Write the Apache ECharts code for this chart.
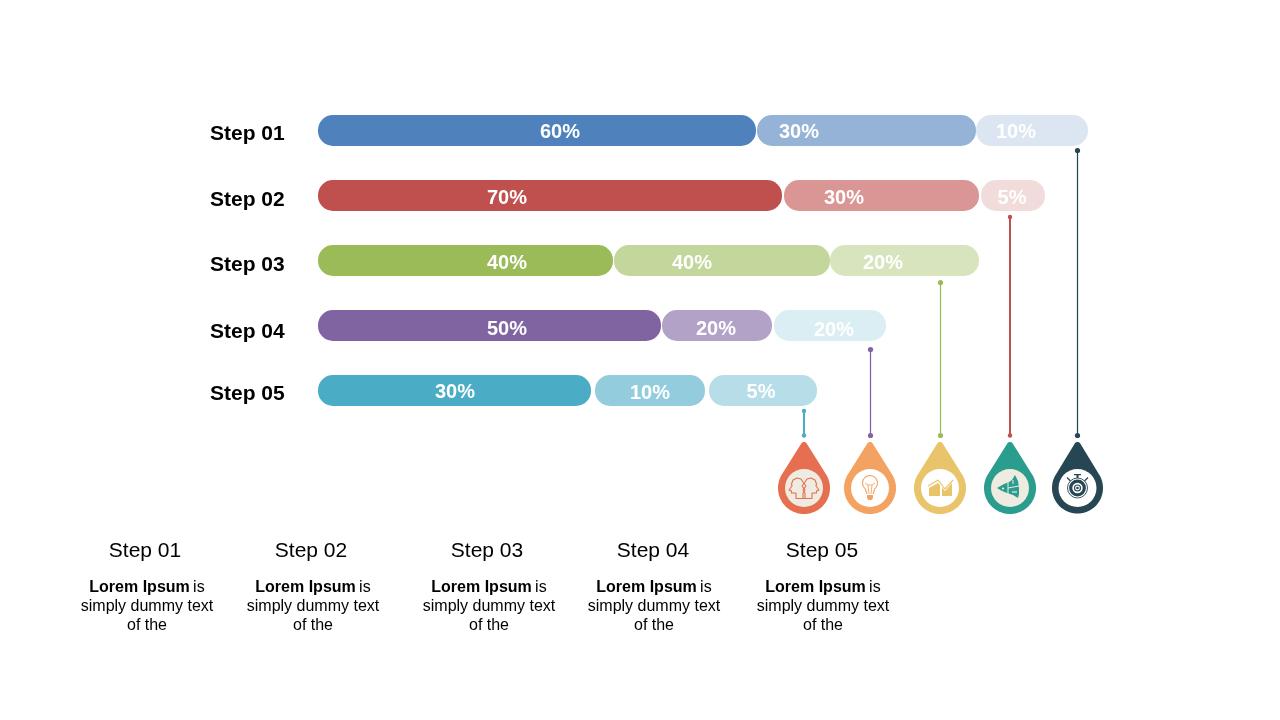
<!DOCTYPE html>
<html>
<head>
<meta charset="utf-8">
<style>html,body{margin:0;padding:0;background:#fff}#c{width:1280px;height:720px}</style>
<script src="https://cdn.jsdelivr.net/npm/echarts@6/dist/echarts.min.js"></script>
</head>
<body>
<div id="c"></div>
<script>
// ---- data ----
const categories = ['Step 01', 'Step 02', 'Step 03', 'Step 04', 'Step 05'];
// Drawn lengths of the segments (the printed percentages are not to scale in the source)
const firstLengths  = [438, 464, 295, 343, 273];
const firstGaps     = [1, 2, 1, 1, 4];
const secondLengths = [219, 195, 216, 110, 110];
const secondGaps    = [0, 2, 0, 2, 4];
const thirdLengths  = [112, 64, 149, 112, 108];
const firstLabels   = ['60%', '70%', '40%', '50%', '30%'];
const secondLabels  = ['30%', '30%', '40%', '20%', '10%'];
const thirdLabels   = ['10%', '5%', '20%', '20%', '5%'];
const stepTitles    = ['Step 01', 'Step 02', 'Step 03', 'Step 04', 'Step 05'];

// ---- styling and layout ----
const firstColors  = ['#4F81BD', '#C0504D', '#9BBB59', '#8064A2', '#4BACC6'];
const secondColors = ['#95B3D7', '#D99694', '#C3D69B', '#B3A2C7', '#93CDDD'];
const thirdColors  = ['#DCE6F2', '#F2DCDB', '#D7E4BD', '#DBEEF4', '#B7DEE8'];
const FONT = '"Liberation Sans", Arial, sans-serif';
const GRID_LEFT = 318;
const ROW_LABEL_DROP = [3.5, 4.5, 4.5, 6.5, 3.5];
const labelCentersX = [
  [560, 507, 507, 507, 455],
  [799, 844, 692, 716, 650],
  [1016, 1012, 883, 834, 761]
];
const labelDropsY = [
  [1.5, 2.5, 2.5, 3.5, 1.5],
  [1.5, 2.5, 2.5, 3.5, 2.5],
  [1.5, 2.5, 2.5, 4.5, 1.5]
];

function segmentStarts(idx) {
  return categories.map((_, i) => {
    let s = 0;
    if (idx > 0) s += firstLengths[i] + firstGaps[i];
    if (idx > 1) s += secondLengths[i] + secondGaps[i];
    return s;
  });
}
function segmentSeries(name, idx, lengths, labels, colors) {
  const starts = segmentStarts(idx);
  return {
    name, type: 'bar', stack: 'row', barWidth: 31, silent: true,
    data: lengths.map((v, i) => ({
      value: v,
      itemStyle: { color: colors[i], borderRadius: 15 },
      label: {
        show: true, position: 'inside', formatter: labels[i],
        color: '#fff', fontFamily: FONT, fontWeight: 'bold', fontSize: 20,
        offset: [labelCentersX[idx][i] - GRID_LEFT - starts[i] - v / 2, labelDropsY[idx][i]]
      }
    }))
  };
}
function gapSeries(name, gaps) {
  return { name, type: 'bar', stack: 'row', barWidth: 31, silent: true,
    itemStyle: { color: 'transparent' }, label: { show: false }, data: gaps };
}

// ---- pins ----
const pins = [
  { cx: 804, lineX: 804, top: 411, color: '#4BACC6', lw: 2, dot: 2.2, drop: '#E76F51', inner: '#EEEBE0', r: 26 },
  { cx: 870, lineX: 870.5, top: 349.5, color: '#8064A2', lw: 1.25, dot: 2.6, drop: '#F4A261', inner: '#FFFFFF', r: 26 },
  { cx: 940, lineX: 940.5, top: 282.5, color: '#9BBB59', lw: 1.25, dot: 2.6, drop: '#E9C46A', inner: '#FFFFFF', r: 26 },
  { cx: 1010, lineX: 1010, top: 217, color: '#C0504D', lw: 2, dot: 2.2, drop: '#2A9D8F', inner: '#EEEBE0', r: 26 },
  { cx: 1077.5, lineX: 1077.5, top: 150.5, color: '#264653', lw: 1.25, dot: 2.6, drop: '#264653', inner: '#FFFFFF', r: 25.5 }
];
const CY = 488;

function dropPoints(cx, R) {
  const r = 3.2, tipY = 445.2;
  const a = Math.asin((R - r) / (CY - tipY));
  const pts = [];
  for (let t = -a; t <= Math.PI + a + 1e-6; t += (Math.PI + 2 * a) / 60)
    pts.push([cx + R * Math.cos(t), CY + R * Math.sin(t)]);
  for (let t = Math.PI + a; t <= 2 * Math.PI - a + 1e-6; t += (Math.PI - 2 * a) / 10)
    pts.push([cx + r * Math.cos(t), tipY + r * Math.sin(t)]);
  return pts;
}
const els = [];
function poly(points, fill) { els.push({ type: 'polygon', silent: true, shape: { points }, style: { fill } }); }
function pline(points, stroke, lw) { els.push({ type: 'polyline', silent: true, shape: { points }, style: { stroke, fill: 'none', lineWidth: lw, lineJoin: 'round' } }); }
function circ(cx, cy, r, fill, stroke, lw) { els.push({ type: 'circle', silent: true, shape: { cx, cy, r }, style: { fill: fill || 'none', stroke: stroke || 'none', lineWidth: lw || 0 } }); }
const off = (cx, cy, arr) => arr.map(p => [cx + p[0], cy + p[1]]);

pins.forEach(p => {
  els.push({ type: 'line', silent: true, shape: { x1: p.lineX, y1: p.top, x2: p.lineX, y2: 435.5 }, style: { stroke: p.color, lineWidth: p.lw } });
  circ(p.lineX, p.top, p.dot, p.color);
  circ(p.lineX, 435.5, p.dot, p.color);
  poly(dropPoints(p.cx, p.r), p.drop);
  circ(p.cx, CY, 19, p.inner);
});

// icon 1: two heads
(function () {
  const c = '#E76F51', x = 804, y = 488;
  const head = [[-1, -6], [-3, -9], [-7, -10], [-11, -8], [-12.5, -4], [-12, -2], [-15, 2], [-12.5, 3], [-12.5, 5], [-8, 5], [-8, 10.5], [1, 10.5], [1, 5], [-1, 2], [2, -2], [-1, -6]];
  pline(off(x, y, head), c, 1.1);
  pline(off(x, y, head.map(q => [-q[0], q[1]])), c, 1.1);
})();
// icon 2: light bulb
(function () {
  const c = '#F4A261', x = 870, y = 488;
  const pts = [];
  for (let d = 130; d <= 410; d += 20) { const t = d * Math.PI / 180; pts.push([7.5 * Math.cos(t), -5 + 7.5 * Math.sin(t)]); }
  pline(off(x, y, [[-3, 6]].concat(pts).concat([[3, 6]])), c, 1.1);
  pline(off(x, y, [[-5, -5], [-2, -3], [-1, 6]]), c, 0.9);
  pline(off(x, y, [[5, -5], [2, -3], [1, 6]]), c, 0.9);
  pline(off(x, y, [[-2, -3], [2, -3]]), c, 0.9);
  poly(off(x, y, [[-3, 7], [3, 7], [3, 10], [1.5, 12], [-1.5, 12], [-3, 10]]), c);
})();
// icon 3: area chart
(function () {
  const c = '#E9C46A', x = 940, y = 488;
  pline(off(x, y, [[-12, -2], [-2, -8], [5, 1], [13, -8]]), c, 1.2);
  poly(off(x, y, [[-11, 8], [-11, 0], [-2, -5], [0, -3], [0, 8]]), c);
  poly(off(x, y, [[2, 8], [2, -1], [5, 3], [12, -5], [12, 8]]), c);
})();
// icon 4: three-leaf shape
(function () {
  const c = '#2A9D8F', b = '#EEEBE0', x = 1010, y = 488;
  poly(off(x, y, [[-13, 0], [-6, -4], [-1, -6], [2, -8], [5, -13], [8, -7], [9, 0], [9, 6], [8, 10], [3, 7], [-3, 5], [-8, 3]]), c);
  pline(off(x, y, [[-2, -7], [-2, 6]]), b, 1);
  pline(off(x, y, [[-2, 0], [9, -2]]), b, 1);
  pline(off(x, y, [[2, 4], [7, 4]]), b, 1.2);
  pline(off(x, y, [[3, -8], [3, -4]]), b, 1);
  circ(x - 7, y + 0.5, 1.1, b);
})();
// icon 5: stopwatch with gear
(function () {
  const c = '#264653', x = 1077.5, y = 488;
  circ(x, y, 10, null, c, 0.9);
  circ(x, y, 6.8, null, c, 3.2);
  circ(x, y, 3, null, c, 1.1);
  circ(x, y, 1.3, c);
  poly(off(x, y, [[-3.5, -14], [3.5, -14], [3.5, -12.8], [1, -12.8], [1, -10], [-1, -10], [-1, -12.8], [-3.5, -12.8]]), c);
  pline(off(x, y, [[-10.5, -10.5], [-7, -7]]), c, 1.2);
  pline(off(x, y, [[10.5, -10.5], [7, -7]]), c, 1.2);
})();

// ---- lower captions ----
const titleCentersX = [145, 311, 487, 653, 822];
const bodyCentersX = [147, 313, 489, 654, 823];
stepTitles.forEach((t, i) => {
  els.push({ type: 'text', silent: true, style: { x: titleCentersX[i], y: 551, text: t, align: 'center', verticalAlign: 'middle', fill: '#000', font: '21px "Liberation Sans"' } });
  els.push({ type: 'text', silent: true, style: { x: bodyCentersX[i], y: 588, align: 'center', verticalAlign: 'middle', fill: '#000',
    text: '{b|Lorem Ipsum} {n|is}', rich: { b: { font: 'bold 16px "Liberation Sans"', fill: '#000' }, n: { font: '16px "Liberation Sans"', fill: '#000' } } } });
  els.push({ type: 'text', silent: true, style: { x: bodyCentersX[i], y: 607, text: 'simply dummy text', align: 'center', verticalAlign: 'middle', fill: '#000', font: '16px "Liberation Sans"' } });
  els.push({ type: 'text', silent: true, style: { x: bodyCentersX[i], y: 626, text: 'of the', align: 'center', verticalAlign: 'middle', fill: '#000', font: '16px "Liberation Sans"' } });
});

const rowRich = {};
ROW_LABEL_DROP.forEach((d, i) => {
  rowRich['r' + i] = { fontFamily: FONT, fontWeight: 'bold', fontSize: 21, color: '#000', padding: [d * 2, 0, 0, 0] };
});

const chart = echarts.init(document.getElementById('c'), null, { renderer: 'canvas', width: 1280, height: 720 });
chart.setOption({
  animation: false,
  backgroundColor: '#fff',
  grid: { left: GRID_LEFT, top: 98, width: 770, height: 325, containLabel: false },
  xAxis: { type: 'value', min: 0, max: 770, show: false },
  yAxis: {
    type: 'category', data: categories, inverse: true,
    axisLine: { show: false }, axisTick: { show: false }, splitLine: { show: false },
    axisLabel: {
      interval: 0, margin: 108, align: 'left',
      formatter: (v, i) => `{r${i}|${v}}`, rich: rowRich
    }
  },
  series: [
    segmentSeries('First', 0, firstLengths, firstLabels, firstColors),
    gapSeries('Gap 1', firstGaps),
    segmentSeries('Second', 1, secondLengths, secondLabels, secondColors),
    gapSeries('Gap 2', secondGaps),
    segmentSeries('Third', 2, thirdLengths, thirdLabels, thirdColors)
  ],
  graphic: { elements: els }
});
</script>
</body>
</html>
